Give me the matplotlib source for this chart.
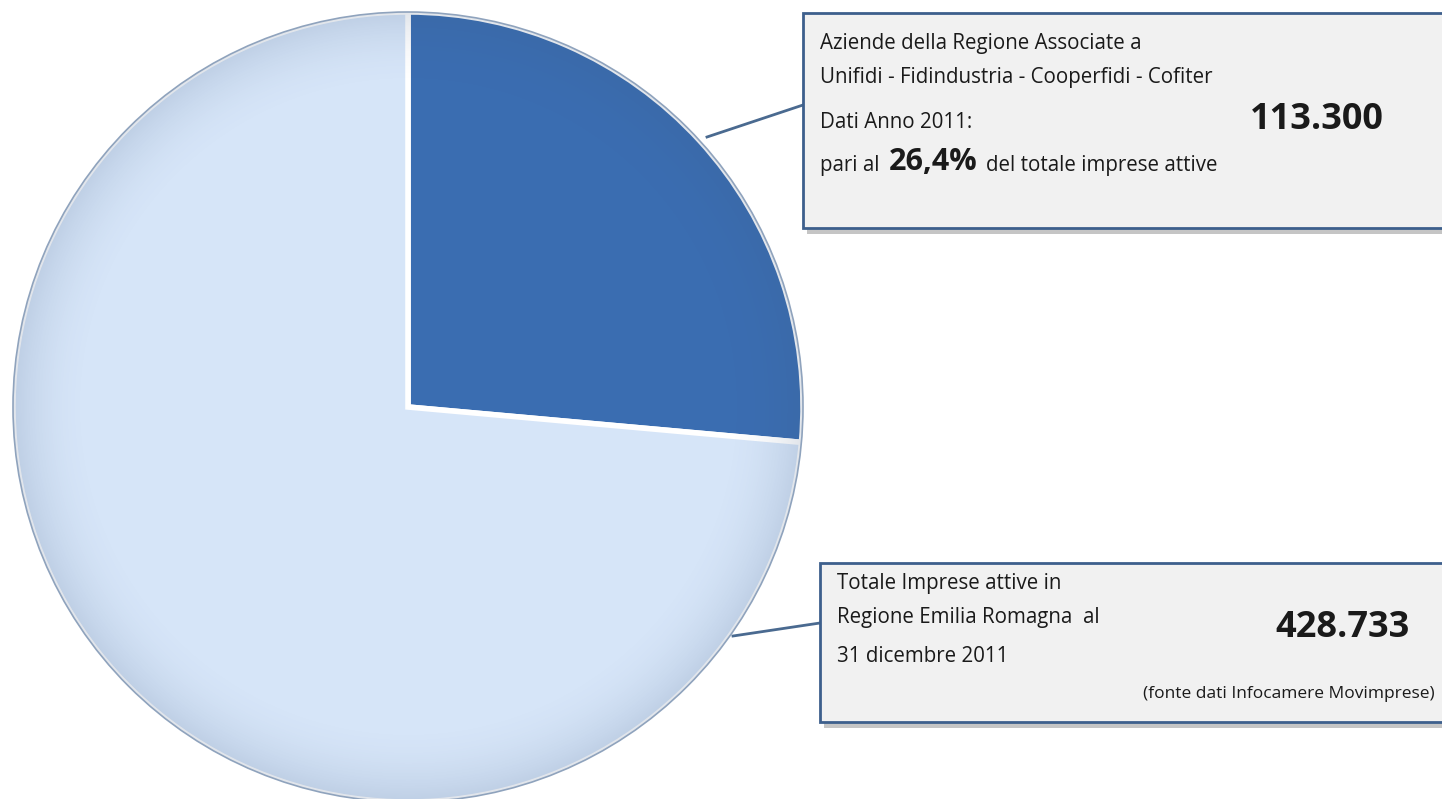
import numpy as np
import matplotlib.pyplot as plt
from matplotlib.patches import Rectangle, Circle

# data
labels = ["Aziende associate", "Altre imprese attive"]
associate = 113300
totale = 428733
values = [associate, totale - associate]
colors = ["#3a6db1", "#d6e5f8"]

W, H = 1442, 799
fig = plt.figure(figsize=(W / 100, H / 100), dpi=100)
ax = fig.add_axes([0, 0, 1, 1])
ax.set_xlim(0, W)
ax.set_ylim(0, H)
ax.set_aspect("equal")
ax.axis("off")

cx, cy, r = 408, H - 407, 395
wedges, _ = ax.pie(values, colors=colors, startangle=90, counterclock=False,
                   center=(cx, cy), radius=r,
                   wedgeprops=dict(edgecolor="white", linewidth=4))
ax.set_xlim(0, W)
ax.set_ylim(0, H)

# soft shading towards the rim
yy, xx = np.mgrid[0:H, 0:W]
d = np.sqrt((xx - cx) ** 2 + (yy - cy) ** 2) / r
shade = np.zeros((H, W, 4))
shade[..., 0] = 0.25
shade[..., 1] = 0.35
shade[..., 2] = 0.5
shade[..., 3] = np.clip((d - 0.8) / 0.2, 0, 1) ** 2 * 0.16
im = ax.imshow(shade, extent=(0, W, 0, H), origin="lower", zorder=3)
im.set_clip_path(Circle((cx, cy), r, transform=ax.transData))
ax.add_patch(Circle((cx, cy), r, fill=False, edgecolor="#8fa3bd", lw=1.2, zorder=4))

# connector lines
ax.plot([707, 803], [H - 137, H - 105], color="#4a6a90", lw=2, zorder=2)
ax.plot([733, 820], [H - 636, H - 623], color="#4a6a90", lw=2, zorder=2)

# boxes with shadow
def box(x0, y0, x1, y1):
    ax.add_patch(Rectangle((x0 + 4, H - y1 - 6), x1 - x0, y1 - y0,
                           facecolor="#7f7f7f", alpha=0.45, edgecolor="none", zorder=5))
    ax.add_patch(Rectangle((x0, H - y1), x1 - x0, y1 - y0, facecolor="#f1f1f1",
                           edgecolor="#3d5f8c", lw=2, zorder=6))

box(803, 13, 1460, 228)
box(820, 563, 1460, 722)

fam = ["Open Sans", "DejaVu Sans"]
txt = dict(family=fam, color="#1a1a1a", zorder=7, va="center")
ax.text(820, H - 43, "Aziende della Regione Associate a", fontsize=14.8, **txt)
ax.text(820, H - 77, "Unifidi - Fidindustria - Cooperfidi - Cofiter", fontsize=14.8, **txt)
ax.text(820, H - 122, "Dati Anno 2011:", fontsize=14.8, **txt)
ax.text(1317, H - 120, "113.300", fontsize=26, fontweight="bold", ha="center", **txt)
ax.text(820, H - 165, "pari al", fontsize=14.8, **txt)
ax.text(889, H - 162, "26,4%", fontsize=22, fontweight="bold", **txt)
ax.text(986, H - 165, "del totale imprese attive", fontsize=14.8, **txt)

ax.text(837, H - 583, "Totale Imprese attive in", fontsize=14.8, **txt)
ax.text(837, H - 617, "Regione Emilia Romagna  al", fontsize=14.8, **txt)
ax.text(837, H - 657, "31 dicembre 2011", fontsize=14.8, **txt)
ax.text(1342, H - 628, "428.733", fontsize=26, fontweight="bold", ha="center", **txt)
ax.text(1435, H - 694, "(fonte dati Infocamere Movimprese)", fontsize=12.5, ha="right", **txt)

fig.savefig("out.png", dpi=100, facecolor="white")
